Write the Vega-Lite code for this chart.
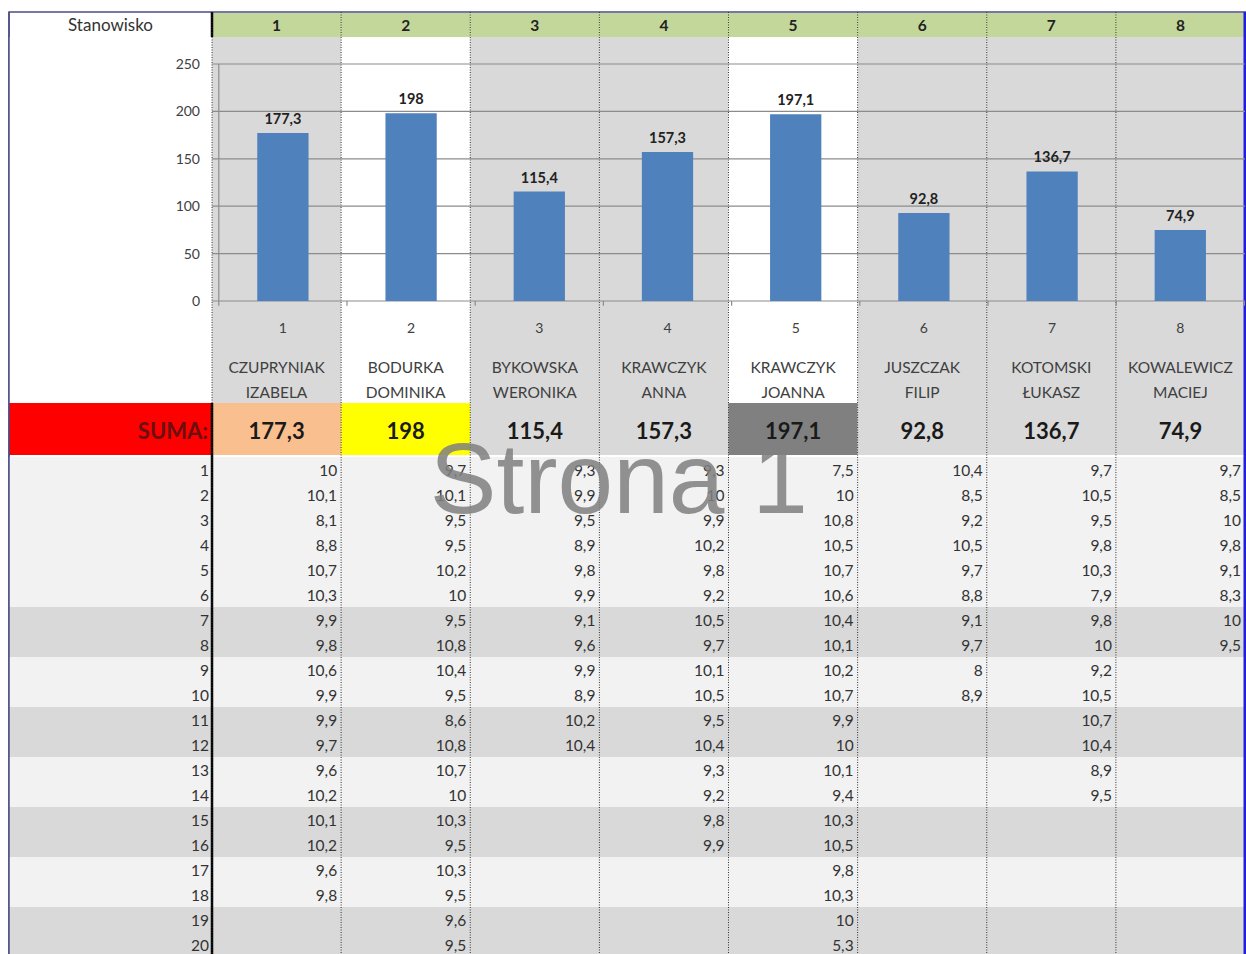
{
  "$schema": "https://vega.github.io/schema/vega-lite/v6.json",
  "width": 1237,
  "height": 942,
  "autosize": "none",
  "padding": {"left": 9, "top": 12, "right": 0, "bottom": 0},
  "background": "white",
  "config": {
    "view": {"stroke": "#4b4b8a", "strokeWidth": 1.5},
    "font": "Lato",
    "locale": {"number": {"decimal": ",", "thousands": " ", "grouping": [3], "currency": ["", " zł"]}}
  },
  "datasets": {
    "st": [
      {"st": 1, "first": "CZUPRYNIAK", "last": "IZABELA", "total": 177.3},
      {"st": 2, "first": "BODURKA", "last": "DOMINIKA", "total": 198},
      {"st": 3, "first": "BYKOWSKA", "last": "WERONIKA", "total": 115.4},
      {"st": 4, "first": "KRAWCZYK", "last": "ANNA", "total": 157.3},
      {"st": 5, "first": "KRAWCZYK", "last": "JOANNA", "total": 197.1},
      {"st": 6, "first": "JUSZCZAK", "last": "FILIP", "total": 92.8},
      {"st": 7, "first": "KOTOMSKI", "last": "ŁUKASZ", "total": 136.7},
      {"st": 8, "first": "KOWALEWICZ", "last": "MACIEJ", "total": 74.9}
    ],
    "rows": [
      {"r": 1}, {"r": 2}, {"r": 3}, {"r": 4}, {"r": 5}, {"r": 6}, {"r": 7}, {"r": 8}, {"r": 9}, {"r": 10},
      {"r": 11}, {"r": 12}, {"r": 13}, {"r": 14}, {"r": 15}, {"r": 16}, {"r": 17}, {"r": 18}, {"r": 19}, {"r": 20}
    ],
    "ticks": [{"v": 0}, {"v": 50}, {"v": 100}, {"v": 150}, {"v": 200}, {"v": 250}],
    "vals": [
      {"st": 1, "r": 1, "v": 10}, {"st": 1, "r": 2, "v": 10.1}, {"st": 1, "r": 3, "v": 8.1}, {"st": 1, "r": 4, "v": 8.8},
      {"st": 1, "r": 5, "v": 10.7}, {"st": 1, "r": 6, "v": 10.3}, {"st": 1, "r": 7, "v": 9.9}, {"st": 1, "r": 8, "v": 9.8},
      {"st": 1, "r": 9, "v": 10.6}, {"st": 1, "r": 10, "v": 9.9}, {"st": 1, "r": 11, "v": 9.9}, {"st": 1, "r": 12, "v": 9.7},
      {"st": 1, "r": 13, "v": 9.6}, {"st": 1, "r": 14, "v": 10.2}, {"st": 1, "r": 15, "v": 10.1}, {"st": 1, "r": 16, "v": 10.2},
      {"st": 1, "r": 17, "v": 9.6}, {"st": 1, "r": 18, "v": 9.8},
      {"st": 2, "r": 1, "v": 9.7}, {"st": 2, "r": 2, "v": 10.1}, {"st": 2, "r": 3, "v": 9.5}, {"st": 2, "r": 4, "v": 9.5},
      {"st": 2, "r": 5, "v": 10.2}, {"st": 2, "r": 6, "v": 10}, {"st": 2, "r": 7, "v": 9.5}, {"st": 2, "r": 8, "v": 10.8},
      {"st": 2, "r": 9, "v": 10.4}, {"st": 2, "r": 10, "v": 9.5}, {"st": 2, "r": 11, "v": 8.6}, {"st": 2, "r": 12, "v": 10.8},
      {"st": 2, "r": 13, "v": 10.7}, {"st": 2, "r": 14, "v": 10}, {"st": 2, "r": 15, "v": 10.3}, {"st": 2, "r": 16, "v": 9.5},
      {"st": 2, "r": 17, "v": 10.3}, {"st": 2, "r": 18, "v": 9.5}, {"st": 2, "r": 19, "v": 9.6}, {"st": 2, "r": 20, "v": 9.5},
      {"st": 3, "r": 1, "v": 9.3}, {"st": 3, "r": 2, "v": 9.9}, {"st": 3, "r": 3, "v": 9.5}, {"st": 3, "r": 4, "v": 8.9},
      {"st": 3, "r": 5, "v": 9.8}, {"st": 3, "r": 6, "v": 9.9}, {"st": 3, "r": 7, "v": 9.1}, {"st": 3, "r": 8, "v": 9.6},
      {"st": 3, "r": 9, "v": 9.9}, {"st": 3, "r": 10, "v": 8.9}, {"st": 3, "r": 11, "v": 10.2}, {"st": 3, "r": 12, "v": 10.4},
      {"st": 4, "r": 1, "v": 9.3}, {"st": 4, "r": 2, "v": 10}, {"st": 4, "r": 3, "v": 9.9}, {"st": 4, "r": 4, "v": 10.2},
      {"st": 4, "r": 5, "v": 9.8}, {"st": 4, "r": 6, "v": 9.2}, {"st": 4, "r": 7, "v": 10.5}, {"st": 4, "r": 8, "v": 9.7},
      {"st": 4, "r": 9, "v": 10.1}, {"st": 4, "r": 10, "v": 10.5}, {"st": 4, "r": 11, "v": 9.5}, {"st": 4, "r": 12, "v": 10.4},
      {"st": 4, "r": 13, "v": 9.3}, {"st": 4, "r": 14, "v": 9.2}, {"st": 4, "r": 15, "v": 9.8}, {"st": 4, "r": 16, "v": 9.9},
      {"st": 5, "r": 1, "v": 7.5}, {"st": 5, "r": 2, "v": 10}, {"st": 5, "r": 3, "v": 10.8}, {"st": 5, "r": 4, "v": 10.5},
      {"st": 5, "r": 5, "v": 10.7}, {"st": 5, "r": 6, "v": 10.6}, {"st": 5, "r": 7, "v": 10.4}, {"st": 5, "r": 8, "v": 10.1},
      {"st": 5, "r": 9, "v": 10.2}, {"st": 5, "r": 10, "v": 10.7}, {"st": 5, "r": 11, "v": 9.9}, {"st": 5, "r": 12, "v": 10},
      {"st": 5, "r": 13, "v": 10.1}, {"st": 5, "r": 14, "v": 9.4}, {"st": 5, "r": 15, "v": 10.3}, {"st": 5, "r": 16, "v": 10.5},
      {"st": 5, "r": 17, "v": 9.8}, {"st": 5, "r": 18, "v": 10.3}, {"st": 5, "r": 19, "v": 10}, {"st": 5, "r": 20, "v": 5.3},
      {"st": 6, "r": 1, "v": 10.4}, {"st": 6, "r": 2, "v": 8.5}, {"st": 6, "r": 3, "v": 9.2}, {"st": 6, "r": 4, "v": 10.5},
      {"st": 6, "r": 5, "v": 9.7}, {"st": 6, "r": 6, "v": 8.8}, {"st": 6, "r": 7, "v": 9.1}, {"st": 6, "r": 8, "v": 9.7},
      {"st": 6, "r": 9, "v": 8}, {"st": 6, "r": 10, "v": 8.9},
      {"st": 7, "r": 1, "v": 9.7}, {"st": 7, "r": 2, "v": 10.5}, {"st": 7, "r": 3, "v": 9.5}, {"st": 7, "r": 4, "v": 9.8},
      {"st": 7, "r": 5, "v": 10.3}, {"st": 7, "r": 6, "v": 7.9}, {"st": 7, "r": 7, "v": 9.8}, {"st": 7, "r": 8, "v": 10},
      {"st": 7, "r": 9, "v": 9.2}, {"st": 7, "r": 10, "v": 10.5}, {"st": 7, "r": 11, "v": 10.7}, {"st": 7, "r": 12, "v": 10.4},
      {"st": 7, "r": 13, "v": 8.9}, {"st": 7, "r": 14, "v": 9.5},
      {"st": 8, "r": 1, "v": 9.7}, {"st": 8, "r": 2, "v": 8.5}, {"st": 8, "r": 3, "v": 10}, {"st": 8, "r": 4, "v": 9.8},
      {"st": 8, "r": 5, "v": 9.1}, {"st": 8, "r": 6, "v": 8.3}, {"st": 8, "r": 7, "v": 10}, {"st": 8, "r": 8, "v": 9.5}
    ]
  },
  "resolve": {"scale": {"x": "independent", "y": "independent"}},
  "layer": [
    {
      "data": {"name": "rows"},
      "mark": {"type": "rect"},
      "encoding": {
        "y": {"field": "r", "type": "ordinal", "axis": null, "scale": {"type": "band", "domain": [1,2,3,4,5,6,7,8,9,10,11,12,13,14,15,16,17,18,19,20], "range": [445, 945], "paddingInner": 0, "paddingOuter": 0}},
        "color": {"condition": {"test": "datum.r >= 7 && (datum.r % 4 == 3 || datum.r % 4 == 0)", "value": "#d9d9d9"}, "value": "#f2f2f2"}
      }
    },
    {
      "data": {"values": [{"lab": "SUMA:"}]},
      "mark": {"type": "rect", "color": "#ff0000"},
      "encoding": {
        "x": {"datum": "L", "type": "nominal", "axis": null, "scale": {"type": "band", "domain": ["L"], "range": [0, 203], "paddingInner": 0, "paddingOuter": 0}},
        "y": {"datum": "s", "type": "nominal", "axis": null, "scale": {"type": "band", "domain": ["s"], "range": [391, 443], "paddingInner": 0, "paddingOuter": 0}}
      }
    },
    {
      "data": {"name": "st"},
      "mark": {"type": "rect"},
      "encoding": {
        "x": {"field": "st", "type": "ordinal", "axis": null, "scale": {"type": "band", "domain": [1,2,3,4,5,6,7,8], "range": [203, 1236], "paddingInner": 0, "paddingOuter": 0}},
        "y": {"datum": "s", "type": "nominal", "axis": null, "scale": {"type": "band", "domain": ["s"], "range": [391, 443], "paddingInner": 0, "paddingOuter": 0}},
        "color": {"field": "st", "type": "ordinal", "legend": null, "scale": {"domain": [1,2,3,4,5,6,7,8], "range": ["#fabf8f", "#ffff00", "#d9d9d9", "#d9d9d9", "#808080", "#d9d9d9", "#d9d9d9", "#d9d9d9"]}}
      }
    },
    {
      "data": {"name": "st"},
      "mark": {"type": "rect", "color": "#c4d79b"},
      "encoding": {
        "x": {"field": "st", "type": "ordinal", "axis": null, "scale": {"type": "band", "domain": [1,2,3,4,5,6,7,8], "range": [203, 1236], "paddingInner": 0, "paddingOuter": 0}},
        "y": {"datum": "h", "type": "nominal", "axis": null, "scale": {"type": "band", "domain": ["h"], "range": [1, 25], "paddingInner": 0, "paddingOuter": 0}}
      }
    },
    {
      "data": {"values": [{"lab": "L"}]},
      "mark": {"type": "rule", "color": "#000000", "strokeWidth": 2.5},
      "encoding": {
        "x": {"datum": "L", "type": "nominal", "axis": null, "bandPosition": 1, "scale": {"type": "band", "domain": ["L"], "range": [0, 203], "paddingInner": 0, "paddingOuter": 0}}
      }
    },
    {
      "data": {"values": [{"lab": "L"}]},
      "mark": {"type": "rect", "color": "#ffffff"},
      "encoding": {
        "x": {"datum": "L", "type": "nominal", "axis": null, "scale": {"type": "band", "domain": ["L"], "range": [0, 203], "paddingInner": 0, "paddingOuter": 0}},
        "y": {"datum": "c", "type": "nominal", "axis": null, "scale": {"type": "band", "domain": ["c"], "range": [25, 391], "paddingInner": 0, "paddingOuter": 0}}
      }
    },
    {
      "data": {"name": "st"},
      "mark": {"type": "rect"},
      "encoding": {
        "x": {"field": "st", "type": "ordinal", "axis": null, "scale": {"type": "band", "domain": [1,2,3,4,5,6,7,8], "range": [203, 1236], "paddingInner": 0, "paddingOuter": 0}},
        "y": {"datum": "c", "type": "nominal", "axis": null, "scale": {"type": "band", "domain": ["c"], "range": [25, 391], "paddingInner": 0, "paddingOuter": 0}},
        "color": {"condition": {"test": "datum.st == 2 || datum.st == 5", "value": "#ffffff"}, "value": "#d9d9d9"}
      }
    },
    {
      "data": {"name": "st"},
      "mark": {"type": "rule", "color": "#333333", "strokeWidth": 1, "strokeDash": [1, 1.5]},
      "encoding": {
        "x": {"field": "st", "type": "ordinal", "axis": null, "bandPosition": 0, "scale": {"type": "band", "domain": [1,2,3,4,5,6,7,8], "range": [203, 1236], "paddingInner": 0, "paddingOuter": 0}}
      }
    },
    {
      "data": {"values": [{"lab": "R"}]},
      "mark": {"type": "rule", "color": "#2020d8", "strokeWidth": 3},
      "encoding": {
        "x": {"datum": 8, "type": "ordinal", "axis": null, "bandPosition": 1, "scale": {"type": "band", "domain": [1,2,3,4,5,6,7,8], "range": [203, 1236], "paddingInner": 0, "paddingOuter": 0}}
      }
    },
    {
      "data": {"values": [{"lab": "L"}]},
      "mark": {"type": "rule", "color": "#4b4b8a", "strokeWidth": 1.5},
      "encoding": {
        "x": {"datum": "L", "type": "nominal", "axis": null, "bandPosition": 0, "scale": {"type": "band", "domain": ["L"], "range": [0, 203], "paddingInner": 0, "paddingOuter": 0}}
      }
    },
    {
      "data": {"name": "ticks"},
      "mark": {"type": "rule", "color": "#8c8c8c", "strokeWidth": 1.2},
      "encoding": {
        "x": {"datum": 1, "type": "ordinal", "axis": null, "bandPosition": 0, "scale": {"type": "band", "domain": [1,2,3,4,5,6,7,8], "range": [203, 1236], "paddingInner": 0, "paddingOuter": 0}},
        "x2": {"datum": 8, "bandPosition": 1},
        "y": {"field": "v", "type": "quantitative", "axis": null, "scale": {"type": "linear", "domain": [0, 250], "range": [289, 52], "nice": false, "zero": false}}
      }
    },
    {
      "data": {"values": [{"lab": "axis"}]},
      "mark": {"type": "rule", "color": "#8c8c8c", "strokeWidth": 1.2},
      "encoding": {
        "x": {"datum": 1, "type": "ordinal", "axis": null, "bandPosition": 0, "scale": {"type": "band", "domain": [1,2,3,4,5,6,7,8], "range": [209.8, 1235.4], "paddingInner": 0, "paddingOuter": 0}},
        "y": {"datum": -5, "type": "quantitative", "axis": null, "scale": {"type": "linear", "domain": [0, 250], "range": [289, 52], "nice": false, "zero": false}},
        "y2": {"datum": 250}
      }
    },
    {
      "data": {"name": "st"},
      "mark": {"type": "rule", "color": "#8c8c8c", "strokeWidth": 1.2},
      "encoding": {
        "x": {"field": "st", "type": "ordinal", "axis": null, "bandPosition": 1, "scale": {"type": "band", "domain": [1,2,3,4,5,6,7,8], "range": [209.8, 1235.4], "paddingInner": 0, "paddingOuter": 0}},
        "y": {"datum": -5, "type": "quantitative", "axis": null, "scale": {"type": "linear", "domain": [0, 250], "range": [289, 52], "nice": false, "zero": false}},
        "y2": {"datum": 0}
      }
    },
    {
      "data": {"name": "st"},
      "mark": {"type": "bar", "color": "#4f81bd", "width": {"band": 0.4}},
      "encoding": {
        "x": {"field": "st", "type": "ordinal", "axis": null, "scale": {"type": "band", "domain": [1,2,3,4,5,6,7,8], "range": [209.8, 1235.4], "paddingInner": 0, "paddingOuter": 0}},
        "y": {"field": "total", "type": "quantitative", "axis": null, "scale": {"type": "linear", "domain": [0, 250], "range": [289, 52], "nice": false, "zero": false}}
      }
    },
    {
      "data": {"name": "st"},
      "mark": {"type": "text", "fontWeight": "bold", "fontSize": 14.5, "color": "#222222", "baseline": "bottom", "dy": -6},
      "encoding": {
        "x": {"field": "st", "type": "ordinal", "axis": null, "scale": {"type": "band", "domain": [1,2,3,4,5,6,7,8], "range": [209.8, 1235.4], "paddingInner": 0, "paddingOuter": 0}},
        "y": {"field": "total", "type": "quantitative", "axis": null, "scale": {"type": "linear", "domain": [0, 250], "range": [289, 52], "nice": false, "zero": false}},
        "text": {"field": "total", "type": "quantitative", "format": ".4~r"}
      }
    },
    {
      "data": {"name": "ticks"},
      "mark": {"type": "text", "fontSize": 14, "color": "#404040", "align": "right", "baseline": "middle", "dx": -12, "dy": 1},
      "encoding": {
        "x": {"datum": "L", "type": "nominal", "axis": null, "bandPosition": 1, "scale": {"type": "band", "domain": ["L"], "range": [0, 203], "paddingInner": 0, "paddingOuter": 0}},
        "y": {"field": "v", "type": "quantitative", "axis": null, "scale": {"type": "linear", "domain": [0, 250], "range": [289, 52], "nice": false, "zero": false}},
        "text": {"field": "v", "type": "quantitative", "format": "d"}
      }
    },
    {
      "data": {"name": "st"},
      "mark": {"type": "text", "fontSize": 14, "color": "#404040", "baseline": "middle", "dy": 1},
      "encoding": {
        "x": {"field": "st", "type": "ordinal", "axis": null, "scale": {"type": "band", "domain": [1,2,3,4,5,6,7,8], "range": [209.8, 1235.4], "paddingInner": 0, "paddingOuter": 0}},
        "y": {"datum": "n", "type": "nominal", "axis": null, "scale": {"type": "band", "domain": ["n"], "range": [304, 328], "paddingInner": 0, "paddingOuter": 0}},
        "text": {"field": "st", "type": "ordinal"}
      }
    },
    {
      "data": {"name": "st"},
      "mark": {"type": "text", "fontSize": 15.5, "color": "#404040", "baseline": "middle", "dy": 2},
      "encoding": {
        "x": {"field": "st", "type": "ordinal", "axis": null, "scale": {"type": "band", "domain": [1,2,3,4,5,6,7,8], "range": [203, 1236], "paddingInner": 0, "paddingOuter": 0}},
        "y": {"datum": "a", "type": "nominal", "axis": null, "scale": {"type": "band", "domain": ["a"], "range": [342, 366], "paddingInner": 0, "paddingOuter": 0}},
        "text": {"field": "first", "type": "nominal"}
      }
    },
    {
      "data": {"name": "st"},
      "mark": {"type": "text", "fontSize": 15.5, "color": "#404040", "baseline": "middle", "dy": 2},
      "encoding": {
        "x": {"field": "st", "type": "ordinal", "axis": null, "scale": {"type": "band", "domain": [1,2,3,4,5,6,7,8], "range": [203, 1236], "paddingInner": 0, "paddingOuter": 0}},
        "y": {"datum": "b", "type": "nominal", "axis": null, "scale": {"type": "band", "domain": ["b"], "range": [367, 391], "paddingInner": 0, "paddingOuter": 0}},
        "text": {"field": "last", "type": "nominal"}
      }
    },
    {
      "data": {"values": [{"lab": "Stanowisko"}]},
      "mark": {"type": "text", "fontSize": 17, "color": "#333333", "baseline": "middle", "dy": 1},
      "encoding": {
        "x": {"datum": "L", "type": "nominal", "axis": null, "scale": {"type": "band", "domain": ["L"], "range": [0, 203], "paddingInner": 0, "paddingOuter": 0}},
        "y": {"datum": "h", "type": "nominal", "axis": null, "scale": {"type": "band", "domain": ["h"], "range": [1, 25], "paddingInner": 0, "paddingOuter": 0}},
        "text": {"field": "lab", "type": "nominal"}
      }
    },
    {
      "data": {"name": "st"},
      "mark": {"type": "text", "fontSize": 15.5, "fontWeight": "bold", "color": "#222222", "baseline": "middle", "dy": 1},
      "encoding": {
        "x": {"field": "st", "type": "ordinal", "axis": null, "scale": {"type": "band", "domain": [1,2,3,4,5,6,7,8], "range": [203, 1236], "paddingInner": 0, "paddingOuter": 0}},
        "y": {"datum": "h", "type": "nominal", "axis": null, "scale": {"type": "band", "domain": ["h"], "range": [1, 25], "paddingInner": 0, "paddingOuter": 0}},
        "text": {"field": "st", "type": "ordinal"}
      }
    },
    {
      "data": {"values": [{"lab": "SUMA:"}]},
      "mark": {"type": "text", "fontSize": 22, "fontWeight": "bold", "color": "#6b0f0f", "align": "right", "baseline": "middle", "dx": -4, "dy": 3},
      "encoding": {
        "x": {"datum": "L", "type": "nominal", "axis": null, "bandPosition": 1, "scale": {"type": "band", "domain": ["L"], "range": [0, 203], "paddingInner": 0, "paddingOuter": 0}},
        "y": {"datum": "s", "type": "nominal", "axis": null, "scale": {"type": "band", "domain": ["s"], "range": [391, 443], "paddingInner": 0, "paddingOuter": 0}},
        "text": {"field": "lab", "type": "nominal"}
      }
    },
    {
      "data": {"name": "st"},
      "mark": {"type": "text", "fontSize": 22, "fontWeight": "bold", "color": "#1a1a1a", "baseline": "middle", "dy": 3},
      "encoding": {
        "x": {"field": "st", "type": "ordinal", "axis": null, "scale": {"type": "band", "domain": [1,2,3,4,5,6,7,8], "range": [203, 1236], "paddingInner": 0, "paddingOuter": 0}},
        "y": {"datum": "s", "type": "nominal", "axis": null, "scale": {"type": "band", "domain": ["s"], "range": [391, 443], "paddingInner": 0, "paddingOuter": 0}},
        "text": {"field": "total", "type": "quantitative", "format": ".4~r"}
      }
    },
    {
      "data": {"name": "rows"},
      "mark": {"type": "text", "fontSize": 15.5, "color": "#333333", "align": "right", "baseline": "middle", "dx": -3, "dy": 1},
      "encoding": {
        "x": {"datum": "L", "type": "nominal", "axis": null, "bandPosition": 1, "scale": {"type": "band", "domain": ["L"], "range": [0, 203], "paddingInner": 0, "paddingOuter": 0}},
        "y": {"field": "r", "type": "ordinal", "axis": null, "scale": {"type": "band", "domain": [1,2,3,4,5,6,7,8,9,10,11,12,13,14,15,16,17,18,19,20], "range": [445, 945], "paddingInner": 0, "paddingOuter": 0}},
        "text": {"field": "r", "type": "ordinal"}
      }
    },
    {
      "data": {"name": "vals"},
      "mark": {"type": "text", "fontSize": 15.5, "color": "#333333", "align": "right", "baseline": "middle", "dx": -4, "dy": 1},
      "encoding": {
        "x": {"field": "st", "type": "ordinal", "axis": null, "bandPosition": 1, "scale": {"type": "band", "domain": [1,2,3,4,5,6,7,8], "range": [203, 1236], "paddingInner": 0, "paddingOuter": 0}},
        "y": {"field": "r", "type": "ordinal", "axis": null, "scale": {"type": "band", "domain": [1,2,3,4,5,6,7,8,9,10,11,12,13,14,15,16,17,18,19,20], "range": [445, 945], "paddingInner": 0, "paddingOuter": 0}},
        "text": {"field": "v", "type": "quantitative", "format": ".4~r"}
      }
    },
    {
      "data": {"values": [{"lab": "Strona 1"}]},
      "mark": {"type": "text", "font": "Liberation Sans", "fontSize": 100, "color": "#808080", "opacity": 0.85, "align": "center", "baseline": "alphabetic"},
      "encoding": {
        "x": {"datum": 3, "type": "ordinal", "axis": null, "bandPosition": 1.15, "scale": {"type": "band", "domain": [1,2,3,4,5,6,7,8], "range": [203, 1236], "paddingInner": 0, "paddingOuter": 0}},
        "y": {"datum": 3, "type": "ordinal", "axis": null, "bandPosition": 0.24, "scale": {"type": "band", "domain": [1,2,3,4,5,6,7,8,9,10,11,12,13,14,15,16,17,18,19,20], "range": [445, 945], "paddingInner": 0, "paddingOuter": 0}},
        "text": {"field": "lab", "type": "nominal"}
      }
    }
  ]
}
